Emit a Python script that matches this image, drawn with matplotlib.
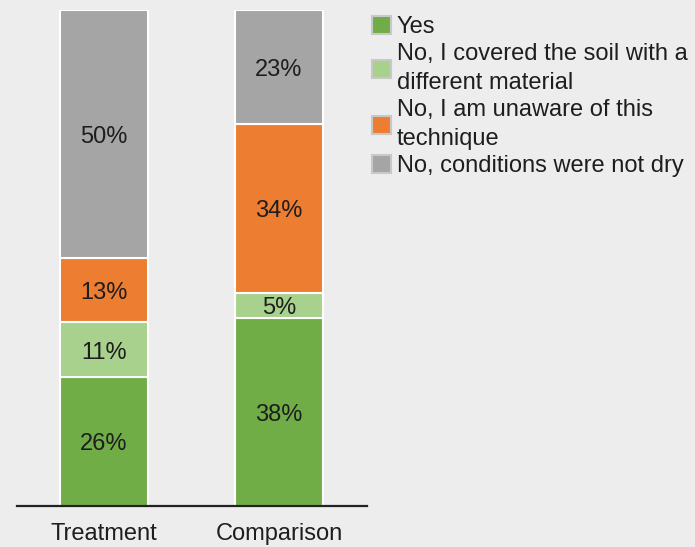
import matplotlib.pyplot as plt
import numpy as np

plt.rcParams['font.family'] = ['Liberation Sans', 'DejaVu Sans']

# survey responses, percent of respondents per group
groups = ['Treatment', 'Comparison']
answers = ['Yes',
           'No, I covered the soil with a\ndifferent material',
           'No, I am unaware of this\ntechnique',
           'No, conditions were not dry']
values = {
    'Yes': [26, 38],
    'No, I covered the soil with a\ndifferent material': [11, 5],
    'No, I am unaware of this\ntechnique': [13, 34],
    'No, conditions were not dry': [50, 23],
}
colors = ['#70ad47', '#a9d18e', '#ed7d31', '#a5a5a5']

bg = '#ededed'
txt = '#1e1e1e'

fig = plt.figure(figsize=(6.95, 5.47), dpi=100, facecolor=bg)
ax = fig.add_axes([17 / 695, 41 / 547, 350 / 695, 496 / 547])
ax.set_facecolor(bg)

x = np.arange(len(groups))
bottom = np.zeros(len(groups))
for ans, col in zip(answers, colors):
    v = np.array(values[ans])
    ax.bar(x, v, width=0.503, bottom=bottom, color=col,
           edgecolor='white', linewidth=1.5, label=ans)
    # percentage in the middle of each segment
    for xi, b, n in zip(x, bottom, v):
        ax.annotate(f'{n}%', (xi, b + n / 2), xytext=(0, -2),
                    textcoords='offset points', ha='center', va='center',
                    fontsize=17, color=txt)
    bottom += v

ax.set_xlim(-0.497, 1.503)
ax.set_ylim(0, 100)
ax.set_xticks(x)
ax.set_xticklabels(groups, fontsize=17, color=txt)
ax.tick_params(axis='x', length=0, pad=12.5)
ax.set_yticks([])
for s in ['top', 'left', 'right']:
    ax.spines[s].set_visible(False)
ax.spines['bottom'].set_color('#222222')
ax.spines['bottom'].set_linewidth(1.6)

leg = fig.legend(loc='upper left', bbox_to_anchor=(372 / 695, 1 - 16 / 547),
                 frameon=False, fontsize=17, handlelength=0.8, handleheight=0.8,
                 handletextpad=0.25, labelspacing=0.22, borderaxespad=0,
                 borderpad=0)
for h in leg.legend_handles:
    h.set_edgecolor('#c8c8c8')
for t in leg.get_texts():
    t.set_color(txt)
    t.set_linespacing(1.38)

fig.savefig('out.png', dpi=100, facecolor=bg)
